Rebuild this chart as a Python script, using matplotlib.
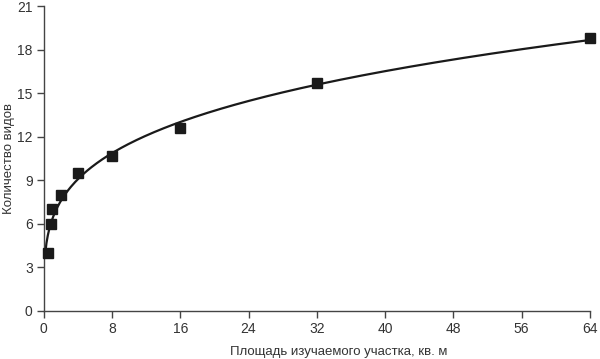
import numpy as np
import matplotlib.pyplot as plt

# area of sampled plot (sq. m) and number of species found
area = [0.5, 0.8, 1, 2, 4, 8, 16, 32, 64]
species = [4, 6, 7, 8, 9.5, 10.7, 12.6, 15.7, 18.8]

# species-area curve S = c * A^z as drawn on the chart
fit_c = 6.33
fit_z = 0.26
fit_start = 0.15

x_ticks = [0, 8, 16, 24, 32, 40, 48, 56, 64]
y_ticks = [0, 3, 6, 9, 12, 15, 18, 21]

plt.rcParams['font.family'] = ['Liberation Sans', 'DejaVu Sans']

fig = plt.figure(figsize=(6, 3.59), dpi=100)
ax = fig.add_axes([0.073, 0.134, 0.91, 0.849])

xs = np.linspace(fit_start, max(area), 400)
ax.plot(xs, fit_c * xs ** fit_z, color='#1a1a1a', lw=1.6, zorder=2)
ax.plot(area, species, 's', color='#1a1a1a', ms=7, zorder=3, clip_on=False)

ax.set_xlim(0, 64)
ax.set_ylim(0, 21)
ax.set_xticks(x_ticks)
ax.set_yticks(y_ticks)

for side in ['top', 'right']:
    ax.spines[side].set_visible(False)
for side in ['left', 'bottom']:
    ax.spines[side].set_color('#444444')
    ax.spines[side].set_linewidth(1.0)

ax.tick_params(direction='out', length=5, width=1, color='#444444',
               labelsize=10, labelcolor='#333333', pad=3)
ax.set_xlabel('Площадь изучаемого участка, кв. м', fontsize=9.5, color='#333333')
ax.set_ylabel('Количество видов', fontsize=9.5, color='#333333')
ax.xaxis.set_label_coords(0.54, -0.115)
ax.yaxis.set_label_coords(-0.052, 0.5)

fig.savefig('out.png', dpi=100)
